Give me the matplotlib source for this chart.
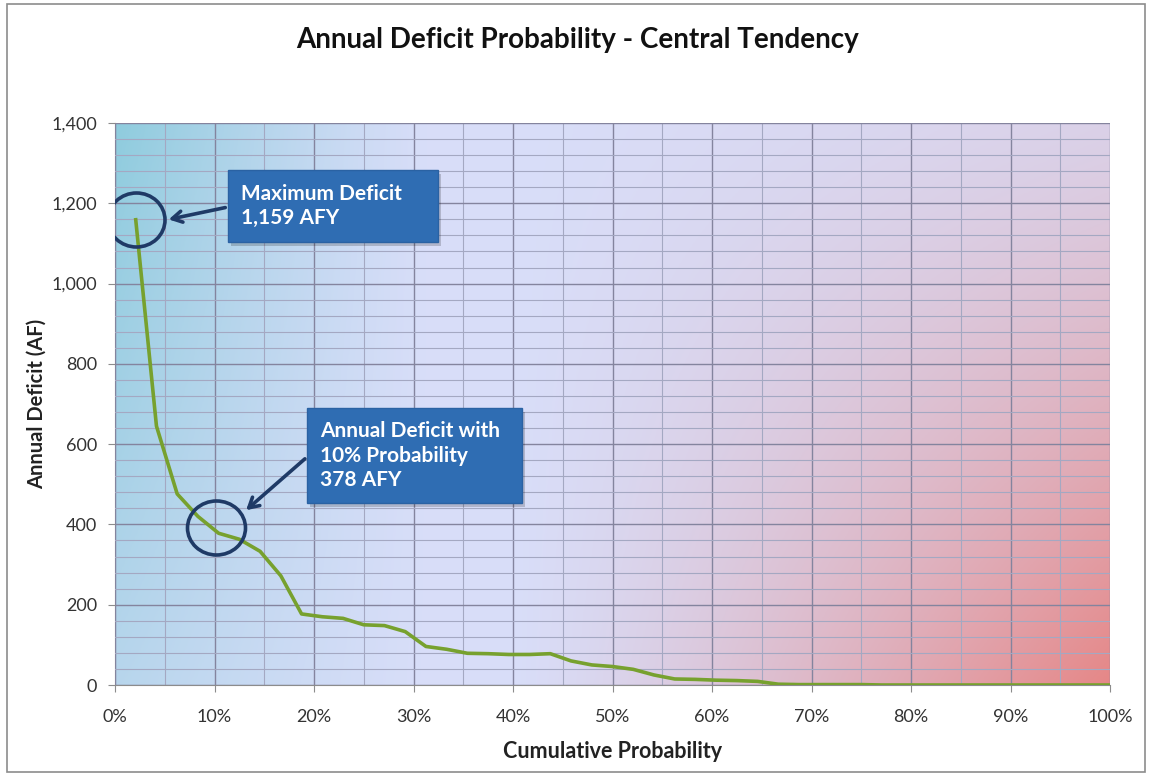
import numpy as np
import matplotlib
matplotlib.use("Agg")
import matplotlib.pyplot as plt
from matplotlib.patches import Ellipse, Rectangle
from matplotlib.ticker import MultipleLocator, FuncFormatter

# ---- data ----
n_points = 48
prob_pct = [100.0 * i / n_points for i in range(1, n_points + 1)]
deficit_af = [1159, 645, 476, 420, 378, 363, 333, 272, 177, 170, 166, 150,
              148, 133, 96, 89, 79, 78, 76, 76, 78, 60, 50, 46,
              39, 25, 15, 14, 12, 11, 9, 2, 1, 1, 1, 1,
              0, 0, 0, 0, 0, 0, 0, 0, 0, 0, 0, 0]
title = "Annual Deficit Probability - Central Tendency"
xlabel = "Cumulative Probability"
ylabel = "Annual Deficit (AF)"
note_max = "Maximum Deficit\n1,159 AFY"
note_10 = "Annual Deficit with\n10% Probability\n378 AFY"

plt.rcParams['font.family'] = ['Lato', 'DejaVu Sans']

W, H = 1149, 776
fig = plt.figure(figsize=(W / 100, H / 100), dpi=100)
fig.patch.set_facecolor('white')

# figure frame
fig.add_artist(Rectangle((7 / W, 1 - 772 / H), (1145 - 7) / W, (772 - 4) / H,
                         transform=fig.transFigure, fill=False,
                         edgecolor='#8c8c8c', linewidth=1.2))

ax = fig.add_axes([115 / W, 1 - 685 / H, (1110 - 115) / W, (685 - 123) / H])

# gradient background
nx, ny = 300, 200
u = np.linspace(0, 1, nx)[None, :]
v = np.linspace(0, 1, ny)[:, None]
base = np.array([0.85, 0.87, 0.975])
cyan = np.array([0.56, 0.80, 0.87])
red = np.array([0.90, 0.53, 0.53])
wc = np.clip(1 - u / 0.32, 0, 1) ** 1.2 * (0.45 + 0.55 * v)
wr = np.clip((u - 0.40) / 0.60, 0, 1) ** 1.2 * (0.15 + 0.85 * (1 - v) ** 1.2)
img = (base[None, None, :] * (1 - wc - wr)[..., None]
       + cyan[None, None, :] * wc[..., None]
       + red[None, None, :] * wr[..., None])
img = np.clip(img, 0, 1)
ax.imshow(img, extent=[0, 100, 0, 1400], origin='lower', aspect='auto', zorder=0)

ax.set_xlim(0, 100)
ax.set_ylim(0, 1400)
ax.xaxis.set_major_locator(MultipleLocator(10))
ax.xaxis.set_minor_locator(MultipleLocator(5))
ax.yaxis.set_major_locator(MultipleLocator(200))
ax.yaxis.set_minor_locator(MultipleLocator(40))
ax.grid(which='major', color='#84849e', linewidth=1.0, zorder=1)
ax.grid(which='minor', color='#a4a8c2', linewidth=0.8, zorder=1)
ax.set_axisbelow(False)
ax.xaxis.set_major_formatter(FuncFormatter(lambda x, p: f"{int(round(x))}%"))
ax.yaxis.set_major_formatter(FuncFormatter(lambda y, p: f"{int(y):,}"))
ax.tick_params(which='major', length=5, color='#8c8c8c', labelsize=13,
               labelcolor='#333333')
ax.tick_params(axis='x', which='major', pad=12)
ax.tick_params(axis='y', which='major', pad=8)
ax.tick_params(which='minor', length=0)
for s in ['top', 'right']:
    ax.spines[s].set_visible(False)
for s in ['left', 'bottom']:
    ax.spines[s].set_color('#8c8c8c')

ax.plot(prob_pct, deficit_af, color='#77a12e', linewidth=2.6, zorder=3,
        solid_joinstyle='round')

ax.set_xlabel(xlabel, fontsize=15.5, fontweight='bold', color='#222222', labelpad=12)
ax.set_ylabel(ylabel, fontsize=14.5, fontweight='bold', color='#222222', labelpad=3)
fig.text(577.5 / W, 1 - 40 / H, title, ha='center', va='center',
         fontsize=20, fontweight='bold', color='#111111')

# annotations (in data coordinates)
navy = '#1f3a66'
def px2data(px, py):
    return (px - 115) / 995 * 100, (685 - py) / (562 / 1400)

cx, cy = px2data(136.5, 220)
ax.add_patch(Ellipse((cx, cy), 57 / 9.95, 54 / 0.40143, fill=False,
                     edgecolor=navy, linewidth=2.6, zorder=5))
cx2, cy2 = px2data(216.5, 528)
ax.add_patch(Ellipse((cx2, cy2), 58 / 9.95, 54 / 0.40143, fill=False,
                     edgecolor=navy, linewidth=2.6, zorder=5))

def box(x0, y0, x1, y1, text):
    a0, b0 = px2data(x0, y1)
    a1, b1 = px2data(x1, y0)
    sh0, shb = px2data(x0 + 3, y1 + 4)
    ax.add_patch(Rectangle((sh0, shb), a1 - a0, b1 - b0, facecolor='#000000',
                           alpha=0.18, edgecolor='none', zorder=5))
    ax.add_patch(Rectangle((a0, b0), a1 - a0, b1 - b0, facecolor='#2f6db3',
                           edgecolor='#2a62a3', linewidth=1, zorder=6))
    tx, ty = px2data(x0 + 13, (y0 + y1) / 2)
    ax.text(tx, ty, text, ha='left', va='center', color='white',
            fontsize=15, fontweight='bold', linespacing=1.3, zorder=7)

box(228, 170, 438, 242, note_max)
box(307, 408, 522, 503, note_10)

def arrow(p0, p1):
    ax.annotate('', xy=px2data(*p1), xytext=px2data(*p0),
                arrowprops=dict(arrowstyle='->,head_length=0.7,head_width=0.4',
                                color=navy, linewidth=2.6), zorder=6)

arrow((228, 207), (166, 220))
arrow((307, 457), (244, 512))

fig.savefig('out.png', dpi=100)
